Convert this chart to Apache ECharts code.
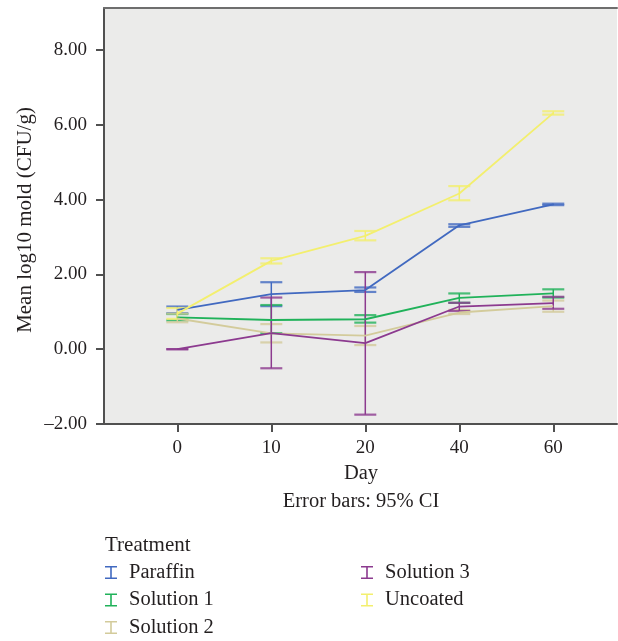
<!DOCTYPE html>
<html>
<head>
<meta charset="utf-8">
<script src="https://cdn.jsdelivr.net/npm/echarts@6/dist/echarts.min.js"></script>
<style>
html,body{margin:0;padding:0;background:#fff;}
#chart{width:618px;height:641px;}
</style>
</head>
<body>
<div id="chart"></div>
<script>
// ---- data ----
var days = ['0', '10', '20', '40', '60'];
var yTicks = [-2, 0, 2, 4, 6, 8];
var seriesNames = ['Paraffin', 'Solution 1', 'Solution 2', 'Solution 3', 'Uncoated'];
var seriesColors = ['#4169C0', '#20B25A', '#D3CB9B', '#8C3A8F', '#F3EF6E'];

var paraffinMean = [1.05, 1.47, 1.58, 3.31, 3.87];
var paraffinLow  = [0.96, 1.15, 1.53, 3.27, 3.85];
var paraffinHigh = [1.14, 1.79, 1.65, 3.34, 3.89];

var sol1Mean = [0.85, 0.78, 0.80, 1.37, 1.49];
var sol1Low  = [0.77, 0.43, 0.71, 1.24, 1.38];
var sol1High = [0.94, 1.18, 0.91, 1.49, 1.60];

var sol2Mean = [0.82, 0.42, 0.36, 0.98, 1.15];
var sol2Low  = [0.72, 0.18, 0.11, 0.94, 1.00];
var sol2High = [0.95, 0.67, 0.62, 1.05, 1.30];

var sol3Mean = [0.00, 0.43, 0.16, 1.14, 1.23];
var sol3Low  = [0.00, -0.51, -1.75, 1.02, 1.08];
var sol3High = [0.00, 1.38, 2.06, 1.24, 1.40];

var uncMean = [0.95, 2.36, 3.03, 4.16, 6.31];
var uncLow  = [0.81, 2.29, 2.91, 3.98, 6.27];
var uncHigh = [1.10, 2.43, 3.16, 4.36, 6.36];

var means = [paraffinMean, sol1Mean, sol2Mean, sol3Mean, uncMean];
var lows = [paraffinLow, sol1Low, sol2Low, sol3Low, uncLow];
var highs = [paraffinHigh, sol1High, sol2High, sol3High, uncHigh];

// ---- chart ----
var FONT = '"Liberation Serif", "DejaVu Serif", serif';
var TXT = '#231F20';
var chart = echarts.init(document.getElementById('chart'));
var xIdx = days.map(function (d, i) { return i; });

function errRender(color) {
  return function (params, api) {
    var x = api.value(0);
    var lo = api.coord([x, api.value(1)]);
    var hi = api.coord([x, api.value(2)]);
    var hw = 11;
    return {
      type: 'group',
      children: [
        { type: 'line', shape: { x1: lo[0], y1: lo[1], x2: hi[0], y2: hi[1] },
          style: { stroke: color, lineWidth: 1.5 } },
        { type: 'line', shape: { x1: hi[0] - hw, y1: hi[1], x2: hi[0] + hw, y2: hi[1] },
          style: { stroke: color, lineWidth: 2.2, opacity: 0.8 } },
        { type: 'line', shape: { x1: lo[0] - hw, y1: lo[1], x2: lo[0] + hw, y2: lo[1] },
          style: { stroke: color, lineWidth: 2.2, opacity: 0.8 } }
      ]
    };
  };
}

var series = [];
seriesNames.forEach(function (name, s) {
  series.push({
    name: name, type: 'line', symbol: 'none', z: 3,
    color: seriesColors[s],
    lineStyle: { color: seriesColors[s], width: 1.8 },
    data: xIdx.map(function (i) { return [i, means[s][i]]; })
  });
  series.push({
    name: name, type: 'custom', z: 2,
    color: seriesColors[s],
    renderItem: errRender(seriesColors[s]),
    data: xIdx.map(function (i) { return [i, lows[s][i], highs[s][i]]; })
  });
});

var icon = 'path://M0,0H12V1.6H0Z M5.2,0H6.8V13H5.2Z M0,11.4H12V13H0Z';
var legendCommon = {
  orient: 'vertical', icon: icon, itemWidth: 12, itemHeight: 13, itemGap: 6.5,
  textStyle: { fontFamily: FONT, fontSize: 20.5, color: TXT, lineHeight: 20, padding: [0, 0, 0, 7] },
  itemStyle: { borderWidth: 0 }, lineStyle: { width: 0 }, padding: 0
};

chart.setOption({
  animation: false,
  backgroundColor: '#fff',
  grid: { left: 104, top: 8, right: 1, bottom: 217, show: true, backgroundColor: '#EBEBEA', borderWidth: 0 },
  xAxis: [{
    type: 'value', min: -0.78, max: 4.678,
    splitLine: { show: false },
    axisLine: { onZero: false, lineStyle: { color: '#505050', width: 2 } },
    axisTick: { customValues: xIdx, length: 8, lineStyle: { color: '#505050', width: 2 } },
    axisLabel: { customValues: xIdx, formatter: function (v) { return days[Math.round(v)]; },
      fontFamily: FONT, fontSize: 19, color: TXT, margin: 15 }
  }, {
    type: 'value', position: 'top', min: -0.78, max: 4.678,
    splitLine: { show: false },
    axisLine: { show: true, onZero: false, lineStyle: { color: '#6E6E6E', width: 2 } },
    axisTick: { show: false }, axisLabel: { show: false }
  }],
  yAxis: {
    type: 'value', min: -2, max: 9.12,
    splitLine: { show: false },
    axisLine: { show: true, onZero: false, lineStyle: { color: '#505050', width: 2 } },
    axisTick: { show: true, customValues: yTicks, length: 8, lineStyle: { color: '#505050', width: 2 } },
    axisLabel: { customValues: yTicks, formatter: function (v) {
        return (v < 0 ? '\u2013' + Math.abs(v).toFixed(2) : v.toFixed(2)); },
      fontFamily: FONT, fontSize: 19, color: TXT, margin: 17 }
  },
  legend: [
    Object.assign({ left: 105, top: 562, data: seriesNames.slice(0, 3) }, legendCommon),
    Object.assign({ left: 361, top: 562, data: seriesNames.slice(3) }, legendCommon)
  ],
  graphic: [
    { type: 'text', x: 25, y: 220, rotation: Math.PI / 2,
      style: { text: 'Mean log10 mold (CFU/g)', fontFamily: FONT, fontSize: 21, fill: TXT,
        align: 'center', verticalAlign: 'middle' } },
    { type: 'text', x: 361, y: 474,
      style: { text: 'Day', fontFamily: FONT, fontSize: 20.5, fill: TXT, align: 'center', verticalAlign: 'middle' } },
    { type: 'text', x: 361, y: 502,
      style: { text: 'Error bars: 95% CI', fontFamily: FONT, fontSize: 20.5, fill: TXT, align: 'center', verticalAlign: 'middle' } },
    { type: 'text', x: 105, y: 545,
      style: { text: 'Treatment', fontFamily: FONT, fontSize: 21, fill: TXT, align: 'left', verticalAlign: 'middle' } }
  ],
  series: series
});
</script>
</body>
</html>
